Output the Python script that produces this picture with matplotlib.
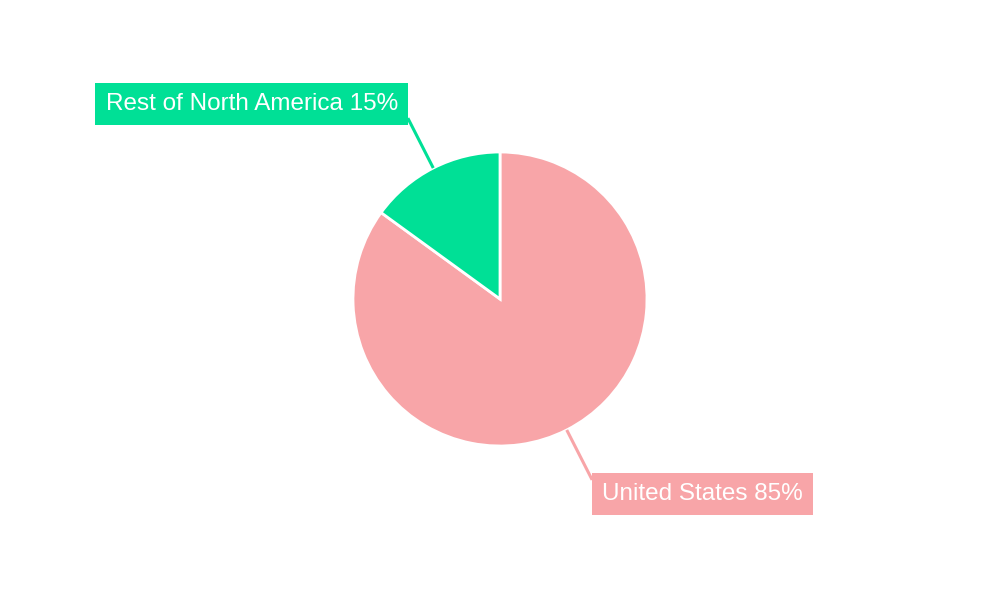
import numpy as np
import matplotlib.pyplot as plt

# données
labels = ["United States", "Rest of North America"]
parts = [85, 15]
couleurs = ["#F8A5A8", "#00E096"]

plt.rcParams['font.family'] = ['Liberation Sans', 'DejaVu Sans']

fig = plt.figure(figsize=(10, 6), dpi=100)
ax = fig.add_axes([0, 0, 1, 1])

centre = (500, 301)
rayon = 147
wedges, _ = ax.pie(parts, colors=couleurs, startangle=90, counterclock=False,
                   center=centre, radius=rayon, frame=True,
                   wedgeprops=dict(edgecolor='white', linewidth=2))
ax.set_xlim(0, 1000)
ax.set_ylim(0, 600)
ax.set_aspect('equal')
ax.axis('off')

# étiquettes avec traits de rappel
for w, nom, val, c in zip(wedges, labels, parts, couleurs):
    ang = np.deg2rad((w.theta1 + w.theta2) / 2)
    x0 = centre[0] + rayon * np.cos(ang)
    y0 = centre[1] + rayon * np.sin(ang)
    x1 = centre[0] + (rayon + 56) * np.cos(ang)
    y1 = centre[1] + (rayon + 56) * np.sin(ang)
    ax.plot([x0, x1], [y0, y1], color=c, lw=2.2, solid_capstyle='butt')
    gauche = np.cos(ang) < 0
    dy = 14 if np.sin(ang) > 0 else -14
    ax.text(x1 - 10 if gauche else x1 + 10, y1 + dy, f"{nom} {val}%",
            ha='right' if gauche else 'left', va='center',
            fontsize=17.5, color='white',
            bbox=dict(boxstyle='square,pad=0.42', fc=c, ec='none'))

fig.savefig("out.png", dpi=100)
